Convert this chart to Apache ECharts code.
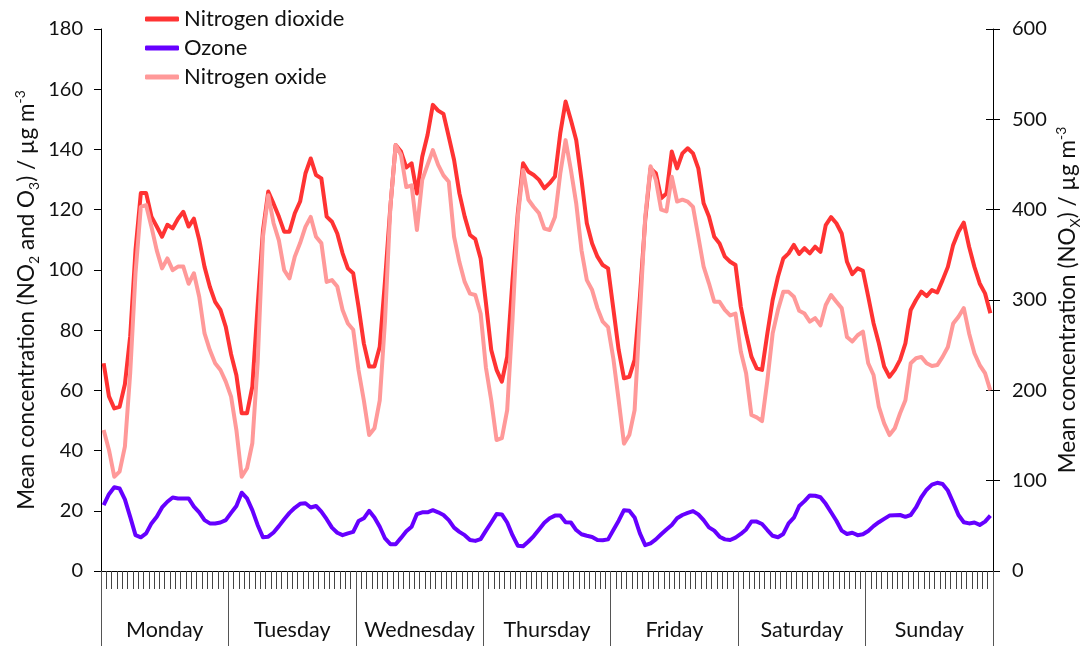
<!DOCTYPE html>
<html>
<head>
<meta charset="utf-8">
<script src="https://cdn.jsdelivr.net/npm/echarts@6/dist/echarts.min.js"></script>
<style>html,body{margin:0;padding:0;background:#fff}#c{width:1082px;height:646px}</style>
</head>
<body>
<div id="c"></div>
<script>
const days = ['Monday', 'Tuesday', 'Wednesday', 'Thursday', 'Friday', 'Saturday', 'Sunday'];
const hours = ['00','01','02','03','04','05','06','07','08','09','10','11','12','13','14','15','16','17','18','19','20','21','22','23'];
const leftAxisTicks = { min: 0, max: 180, interval: 20 };
const rightAxisTicks = { min: 0, max: 600, interval: 100 };

// Nitrogen dioxide (left axis, µg m-3), hourly Monday..Sunday
const no2 = [
  69, 58, 54, 54.5, 62, 78, 106.6, 125.5, 125.5, 117.7, 114.4, 111, 115, 113.8, 117, 119.3, 114.4, 117, 110, 101, 94.4, 89.4, 86.7, 81.1,
  72, 65, 52.4, 52.4, 61.2, 88, 113, 126, 122, 117.7, 112.7, 112.7, 118.8, 122.7, 132, 137, 131.5, 130.4, 117.7, 116, 112.1, 105.5, 100.5, 98.9,
  87.8, 75.6, 67.9, 67.9, 74.5, 96.6, 121, 141.5, 139.3, 134, 135.4, 125.4, 137.6, 144.8, 154.8, 152.9, 151.8, 144.2, 136.5, 125.4, 117.7, 111.6, 110.2, 103.8,
  89, 73.4, 66.8, 62.9, 71.2, 96.6, 118.8, 135.4, 132.6, 131.5, 129.9, 127.1, 128.8, 131, 145.4, 155.9, 149.8, 143.1, 129.9, 115.5, 108.8, 104.4, 101.6, 100.5,
  87, 73.4, 64, 64.5, 70.1, 91.1, 116.6, 133.7, 132.1, 123.8, 125.4, 139.3, 133.7, 138.7, 140.4, 138.7, 133.7, 122.1, 117.7, 111, 108.8, 104.4, 102.7, 101.6,
  87.8, 78.9, 71.2, 67.3, 66.8, 78.9, 90, 97.7, 103.8, 105.5, 108.3, 105.3, 107.2, 105.5, 107.7, 106, 114.9, 117.5, 115.5, 112.1, 102.7, 98.6, 100.5, 99.7,
  91.1, 82.3, 75.6, 67.9, 64.5, 66.8, 70.1, 75.6, 86.7, 90, 92.8, 91.3, 93.3, 92.5, 96.6, 101, 108.3, 112.7, 115.7, 107.7, 101, 95.5, 92.2, 85.6
];

// Ozone (left axis, µg m-3)
const ozone = [
  21.9, 25.5, 27.8, 27.4, 23.8, 18, 11.9, 11.2, 12.5, 15.8, 18, 21.1, 23, 24.4, 24.1, 24.1, 24.1, 21.4, 19.5, 16.9, 15.8, 15.8, 16.1, 16.9,
  19.3, 21.6, 26, 24.1, 20.2, 15.3, 11.2, 11.4, 12.8, 14.9, 17.2, 19.3, 21, 22.3, 22.5, 21.1, 21.6, 19.7, 17.2, 14.4, 12.7, 11.9, 12.5, 13,
  16.6, 17.5, 20, 17.8, 14.7, 10.8, 8.9, 8.9, 11, 13.2, 14.7, 18.9, 19.5, 19.5, 20.2, 19.5, 18.6, 16.9, 14.4, 13, 11.9, 10.3, 10, 10.6,
  13.4, 16.1, 18.9, 18.8, 16.1, 11.9, 8.4, 8.2, 9.8, 11.6, 13.8, 16, 17.5, 18.4, 18.4, 16.2, 16.1, 13.6, 12.2, 11.7, 11.3, 10.3, 10.2, 10.5,
  13.6, 16.7, 20.2, 20, 17.8, 12.5, 8.6, 9.2, 10.5, 12.2, 13.8, 15.3, 17.5, 18.6, 19.3, 19.9, 18.8, 16.9, 14.5, 13.4, 11.4, 10.5, 10.3, 11.1,
  12.3, 13.8, 16.4, 16.4, 15.6, 13.6, 11.7, 11.2, 12.3, 15.8, 17.7, 21.6, 23.2, 25.1, 25, 24.5, 22.3, 19.5, 16.7, 13.4, 12.3, 12.7, 11.9, 12.2,
  13.3, 14.9, 16.2, 17.3, 18.4, 18.5, 18.6, 18, 18.6, 21.1, 24.5, 27, 28.7, 29.3, 28.9, 26.7, 22.7, 18.6, 16.2, 15.8, 16.1, 15.3, 16.4, 18.4
];

// Nitrogen oxides NOx (right axis, µg m-3)
const nox = [
  156, 134, 104.4, 110, 137.6, 219, 329.6, 403, 405, 381, 355, 335, 346, 333, 337, 337, 318, 329.6, 303.6, 263, 244.6, 230, 222.5, 209.6,
  193, 156, 104.4, 113.7, 141.4, 230, 370, 416, 385, 366, 333, 324, 348, 363, 381, 392, 370, 363, 320, 322, 315, 289, 274, 267,
  222.5, 189, 150.5, 158, 189, 278, 403, 471.6, 460.5, 425, 427, 377.5, 433, 449.5, 466, 449.5, 438, 431, 370, 342, 320, 307, 305.5, 285,
  225, 189, 145, 147, 178, 278, 392, 444, 411, 403, 396, 379, 377.5, 392, 440, 477, 444, 407, 355, 322, 311, 291, 276, 270,
  235, 189, 141, 150.5, 178, 285, 392, 448, 433, 400, 398, 436.5, 409, 411, 409, 403, 370, 337, 318.5, 298, 298, 289, 283, 285,
  243, 219, 172.7, 170, 166, 211, 263, 289, 309, 309, 303.6, 288, 285, 276, 280, 272, 294.5, 305.5, 298, 291, 259, 254, 261, 265,
  230, 217, 182, 163.5, 150.5, 158, 174.6, 189, 230, 235.5, 237, 230, 227, 228, 237, 248, 274, 281.5, 291, 263, 241, 228, 219, 200
];

const seriesNames = ['Nitrogen dioxide', 'Ozone', 'Nitrogen oxide'];

const categories = [];
days.forEach(function (d) { hours.forEach(function (h) { categories.push(d + ' ' + h + ':00'); }); });

const FONT = 'Lato';
const TXT = '#111';
const richStyles = {
  sub: { fontFamily: FONT, fontSize: 14, color: TXT, verticalAlign: 'bottom', lineHeight: 14 },
  sup: { fontFamily: FONT, fontSize: 14, color: TXT, verticalAlign: 'top', lineHeight: 14 }
};

const chart = echarts.init(document.getElementById('c'), null, { renderer: 'canvas' });
chart.setOption({
  animation: false,
  backgroundColor: '#fff',
  textStyle: { fontFamily: FONT },
  legend: {
    data: seriesNames,
    orient: 'vertical',
    left: 140,
    top: 3,
    itemWidth: 34,
    itemHeight: 5,
    itemGap: 7,
    icon: 'roundRect',
    textStyle: { fontFamily: FONT, fontSize: 22, color: TXT, lineHeight: 22 }
  },
  grid: { left: 101, right: 89, top: 29, bottom: 75, containLabel: false, outerBoundsMode: 'none' },
  xAxis: [
    {
      type: 'category',
      data: categories,
      boundaryGap: true,
      axisLine: { show: true, lineStyle: { color: '#000', width: 1 } },
      axisTick: { show: true, interval: 0, length: 18, lineStyle: { color: '#444', width: 1 } },
      axisLabel: { show: false },
      splitLine: { show: false }
    },
    {
      type: 'category',
      data: days,
      position: 'bottom',
      boundaryGap: true,
      axisLine: { show: false },
      axisTick: { show: true, interval: 0, length: 75, lineStyle: { color: '#555', width: 1 } },
      axisLabel: { show: true, interval: 0, margin: 48, fontFamily: FONT, fontSize: 21.5, color: TXT },
      splitLine: { show: false }
    }
  ],
  yAxis: [
    {
      type: 'value',
      position: 'left',
      min: leftAxisTicks.min, max: leftAxisTicks.max, interval: leftAxisTicks.interval,
      axisLine: { show: true, lineStyle: { color: '#000', width: 1 } },
      axisTick: { show: true, length: 7, lineStyle: { color: '#000' } },
      axisLabel: { margin: 18, fontFamily: FONT, fontSize: 20, color: TXT },
      splitLine: { show: false },
      name: 'Mean concentration (NO{sub|2} and O{sub|3}) / µg m{sup|-3}',
      nameLocation: 'middle',
      nameRotate: 90,
      nameGap: 60,
      nameMoveOverlap: false,
      nameTextStyle: { fontFamily: FONT, fontSize: 22.5, color: TXT, lineHeight: 28, rich: richStyles }
    },
    {
      type: 'value',
      position: 'right',
      min: rightAxisTicks.min, max: rightAxisTicks.max, interval: rightAxisTicks.interval,
      axisLine: { show: true, lineStyle: { color: '#000', width: 1 } },
      axisTick: { show: true, length: 7, lineStyle: { color: '#000' } },
      axisLabel: { margin: 19, fontFamily: FONT, fontSize: 20, color: TXT },
      splitLine: { show: false },
      name: 'Mean concentration (NO{sub|X}) / µg m{sup|-3}',
      nameLocation: 'middle',
      nameRotate: 90,
      nameGap: 61,
      nameMoveOverlap: false,
      nameTextStyle: { fontFamily: FONT, fontSize: 22.5, color: TXT, lineHeight: 28, rich: richStyles }
    },
    {
      type: 'value',
      position: 'right',
      min: rightAxisTicks.min, max: rightAxisTicks.max, interval: rightAxisTicks.interval,
      axisLine: { show: false },
      axisTick: { show: true, inside: true, length: 7, lineStyle: { color: '#000' } },
      axisLabel: { show: false },
      splitLine: { show: false }
    }
  ],
  series: [
    {
      name: seriesNames[0], type: 'line', xAxisIndex: 0, yAxisIndex: 0, data: no2,
      symbol: 'none', showSymbol: false, color: '#FF3333',
      lineStyle: { width: 4, color: '#FF3333', join: 'round' }, z: 3
    },
    {
      name: seriesNames[1], type: 'line', xAxisIndex: 0, yAxisIndex: 0, data: ozone,
      symbol: 'none', showSymbol: false, color: '#6600FF',
      lineStyle: { width: 4, color: '#6600FF', join: 'round' }, z: 3
    },
    {
      name: seriesNames[2], type: 'line', xAxisIndex: 0, yAxisIndex: 1, data: nox,
      symbol: 'none', showSymbol: false, color: '#FF9999',
      lineStyle: { width: 4, color: '#FF9999', join: 'round' }, z: 4
    }
  ]
});
</script>
</body>
</html>
